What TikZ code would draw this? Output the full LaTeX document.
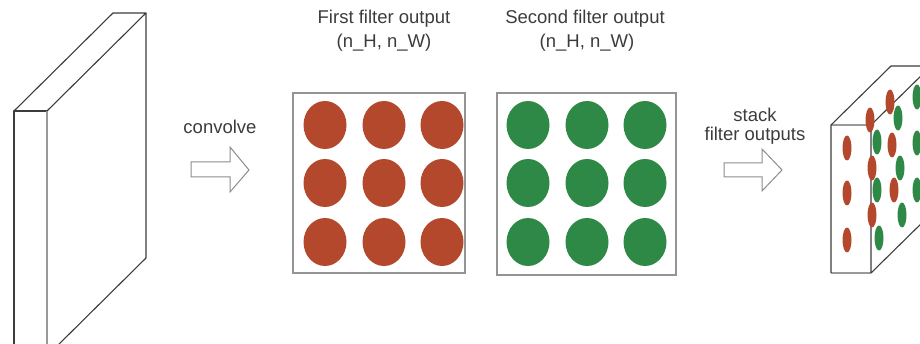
\documentclass[tikz,border=0pt]{standalone}
\usepackage{fontspec}
\setmainfont{Liberation Sans}
\definecolor{dotred}{RGB}{180,72,44}
\definecolor{dotgreen}{RGB}{46,136,70}
\definecolor{ink}{RGB}{60,60,60}
\begin{document}
\begin{tikzpicture}[x=1pt,y=-1pt,
  edge/.style={draw=ink,line width=1.1pt,line join=round},
  softedge/.style={draw=black!40,line width=1.1pt},
  panel/.style={draw=black!42,line width=1.3pt},
  bigdot/.style={line width=0pt},
  label/.style={text=ink,font=\fontsize{18.5}{21}\selectfont,inner sep=0pt,align=center},
  hollow/.style={draw=black!45,line width=1pt,fill=white,line join=miter}
]
\useasboundingbox (0,0) rectangle (920,344);
\clip (0,0) rectangle (920,344);

% input volume on the left (thin slab seen in perspective)
\draw[edge] (14,356) -- (14,111) -- (47,111);
\draw[softedge] (47,111) -- (47,356);
\draw[edge] (14,111) -- (113,13) -- (146,13) -- (47,111);
\draw[edge] (146,13) -- (146,258) -- (47,356);

% convolve arrow
\node[label] (conv) at (220,127) {convolve};
\draw[hollow] (191,162) -- (230,162) -- (230,147) -- (249,170) -- (230,192)
  -- (230,177) -- (191,177) -- cycle;

% first filter output
\node[label] (t1) at (384,19) {First filter output};
\node[label] (s1) at (384,43) {(n\_H, n\_W)};
\draw[panel] (293,93) rectangle (465,273);
\foreach \x in {325,384,442}
  \foreach \y in {125,183,242}
    \fill[dotred] (\x,\y) ellipse [x radius=21.5pt, y radius=24pt];

% second filter output
\node[label] (t2) at (585,19) {Second filter output};
\node[label] (s2) at (587,43) {(n\_H, n\_W)};
\draw[panel] (497,93) rectangle (676,275);
\foreach \x in {528,587,645}
  \foreach \y in {125,183,242}
    \fill[dotgreen] (\x,\y) ellipse [x radius=21.5pt, y radius=24pt];

% stack arrow
\node[label] (st1) at (755,115) {stack};
\node[label] (st2) at (755,136) {filter outputs};
\draw[hollow] (724,163) -- (762,163) -- (762,149) -- (782,170) -- (762,191)
  -- (762,177) -- (724,177) -- cycle;

% stacked output volume
\draw[softedge] (831,125) -- (871,125);
\draw[softedge] (831,273) -- (871,273);
\draw[edge] (831,273) -- (831,125) -- (891,66) -- (951,66);
\draw[edge] (871,125) -- (931,66);
\draw[edge] (871,125) -- (871,273) -- (931,214);

% front face: first filter channel
\foreach \y in {148,193,240}
  \fill[dotred] (847,\y) ellipse [x radius=4.5pt, y radius=12.5pt];
% side face: channels alternating through the depth
\foreach \x/\y in {870/120,872/168,872/215,890/102,892/145,894/190}
  \fill[dotred] (\x,\y) ellipse [x radius=4.5pt, y radius=12.5pt];
\foreach \x/\y in {877/142,877/190,879/238,898/118,900/168,902/215,917/97,917/143,917/190}
  \fill[dotgreen] (\x,\y) ellipse [x radius=4.5pt, y radius=12.5pt];
\end{tikzpicture}
\end{document}
